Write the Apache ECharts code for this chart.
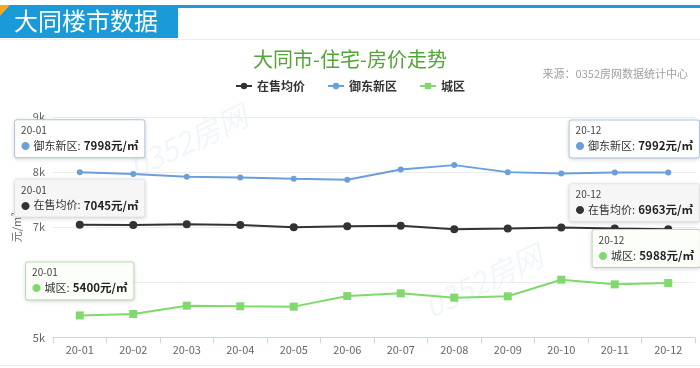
<!DOCTYPE html>
<html><head><meta charset="utf-8">
<script src="https://cdn.jsdelivr.net/npm/echarts@6/dist/echarts.min.js"></script>
<style>html,body{margin:0;padding:0;background:#fff}#c{width:700px;height:368px}</style>
</head><body><div id="c"></div>
<script>
var categories = ['20-01','20-02','20-03','20-04','20-05','20-06','20-07','20-08','20-09','20-10','20-11','20-12'];
var avgPrice = [7045, 7042, 7055, 7042, 7000, 7018, 7027, 6964, 6976, 6995, 6976, 6963];
var yudong = [7998, 7964, 7915, 7904, 7878, 7860, 8049, 8127, 8000, 7976, 7995, 7992];
var urban = [5400, 5426, 5578, 5566, 5560, 5752, 5801, 5723, 5747, 6049, 5964, 5988];
var seriesNames = ['在售均价', '御东新区', '城区'];
var yTicks = ['5k','6k','7k','8k','9k'];

var FONT = '"Noto Sans CJK SC", "Noto Sans", sans-serif';
var colors = ['#333333', '#6a9fdc', '#7fd96c'];

function boxStyle(i) {
  if (i === 0) return {bg: '#f6f6f6', border: '#ececec', dist: 4};
  if (i === 1) return {bg: '#ffffff', border: '#b3cde9', dist: 12};
  return {bg: '#fbfef9', border: '#bfe5b4', dist: 12};
}

function buildData(values, idx) {
  var name = seriesNames[idx];
  return values.map(function (v, k) {
    if (k !== 0 && k !== values.length - 1) return v;
    var bs = boxStyle(idx);
    var offX = 0;
    if (k === values.length - 1) offX = (idx === 2) ? -22 : -34;
    return {
      value: v,
      label: {
        show: true,
        position: 'top',
        distance: bs.dist,
        offset: [offX, 0],
        formatter: '{t|' + categories[k] + '}\n{d|●} {n|' + name + ':} {v|' + v + '元/㎡}',
        backgroundColor: bs.bg,
        borderColor: bs.border,
        borderWidth: 1,
        borderRadius: 2,
        padding: [3, 6, 3, 6],
        shadowColor: 'rgba(0,0,0,0.12)',
        shadowBlur: 4,
        shadowOffsetY: 1,
        rich: {
          t: {fontSize: 10, color: '#444', fontFamily: FONT, lineHeight: 14, align: 'left'},
          d: {fontSize: 9, color: colors[idx], fontFamily: FONT, lineHeight: 17},
          n: {fontSize: 11, color: '#333', fontFamily: FONT, lineHeight: 17},
          v: {fontSize: 11.5, color: '#222', fontWeight: 'bold', fontFamily: FONT, lineHeight: 17}
        }
      }
    };
  });
}

var chart = echarts.init(document.getElementById('c'), null, {renderer: 'canvas'});
chart.setOption({
  backgroundColor: '#ffffff',
  animation: false,
  title: {
    text: '大同市-住宅-房价走势',
    left: 'center',
    top: 44,
    textStyle: {color: '#52a536', fontSize: 20, fontWeight: 'normal', fontFamily: FONT}
  },
  legend: {
    top: 75,
    left: 'center',
    itemWidth: 16,
    itemHeight: 8,
    itemGap: 22,
    textStyle: {color: '#333', fontSize: 12, fontWeight: 'bold', fontFamily: FONT},
    data: seriesNames
  },
  graphic: [
    {type: 'rect', left: 0, top: 5, shape: {width: 700, height: 3}, style: {fill: '#1a9ad6'}, silent: true},
    {type: 'rect', left: 0, top: 5, shape: {width: 178, height: 33}, style: {fill: '#1a9ad6'}, silent: true},
    {type: 'polygon', shape: {points: [[0,5],[10,5],[0,16]]}, style: {fill: '#f5a623'}, silent: true},
    {type: 'text', left: 14, top: 9, style: {text: '大同楼市数据', fill: '#ffffff', fontSize: 24, fontFamily: FONT}, silent: true},
    {type: 'rect', left: 0, top: 39, shape: {width: 700, height: 1}, style: {fill: '#e8eef2'}, silent: true},
    {type: 'rect', left: 0, top: 365, shape: {width: 700, height: 1}, style: {fill: '#ececec'}, silent: true},
    {type: 'text', right: 12, top: 68, style: {text: '来源：0352房网数据统计中心', fill: '#a0a0a0', fontSize: 11, fontFamily: FONT}, silent: true},
    {type: 'text', left: 125, top: 100, rotation: 0.45, style: {text: '0352房网', fill: 'rgba(140,180,225,0.12)', fontSize: 30, fontStyle: 'italic', fontFamily: FONT}, silent: true, z: -1},
    {type: 'text', left: 420, top: 240, rotation: 0.45, style: {text: '0352房网', fill: 'rgba(140,180,225,0.12)', fontSize: 30, fontStyle: 'italic', fontFamily: FONT}, silent: true, z: -1}
  ],
  grid: {left: 53, right: 5, top: 117, bottom: 30.5},
  xAxis: {
    type: 'category',
    data: categories,
    boundaryGap: true,
    axisLine: {lineStyle: {color: '#ccd6eb'}},
    axisTick: {show: true, alignWithLabel: false, length: 6, lineStyle: {color: '#ccd6eb'}},
    axisLabel: {color: '#666', fontSize: 11, fontFamily: FONT, margin: 7}
  },
  yAxis: {
    type: 'value',
    min: 5000,
    max: 9000,
    interval: 1000,
    name: '元/m²',
    nameLocation: 'middle',
    nameRotate: 90,
    nameGap: 30,
    nameTextStyle: {color: '#666', fontSize: 11, fontFamily: FONT},
    axisLine: {show: false},
    axisTick: {show: false},
    splitLine: {lineStyle: {color: '#ececec'}},
    axisLabel: {
      color: '#666', fontSize: 11, fontFamily: FONT, margin: 8,
      formatter: function (v) { return yTicks[Math.round((v - 5000) / 1000)]; }
    }
  },
  series: [
    {
      name: seriesNames[0], type: 'line', data: buildData(avgPrice, 0),
      symbol: 'circle', symbolSize: 8,
      lineStyle: {color: colors[0], width: 2},
      itemStyle: {color: colors[0]}, z: 3
    },
    {
      name: seriesNames[1], type: 'line', data: buildData(yudong, 1),
      symbol: 'circle', symbolSize: 6,
      lineStyle: {color: colors[1], width: 2},
      itemStyle: {color: colors[1]}, z: 3
    },
    {
      name: seriesNames[2], type: 'line', data: buildData(urban, 2),
      symbol: 'rect', symbolSize: 8,
      lineStyle: {color: colors[2], width: 2},
      itemStyle: {color: colors[2]}, z: 4
    }
  ]
});
</script>
</body></html>
